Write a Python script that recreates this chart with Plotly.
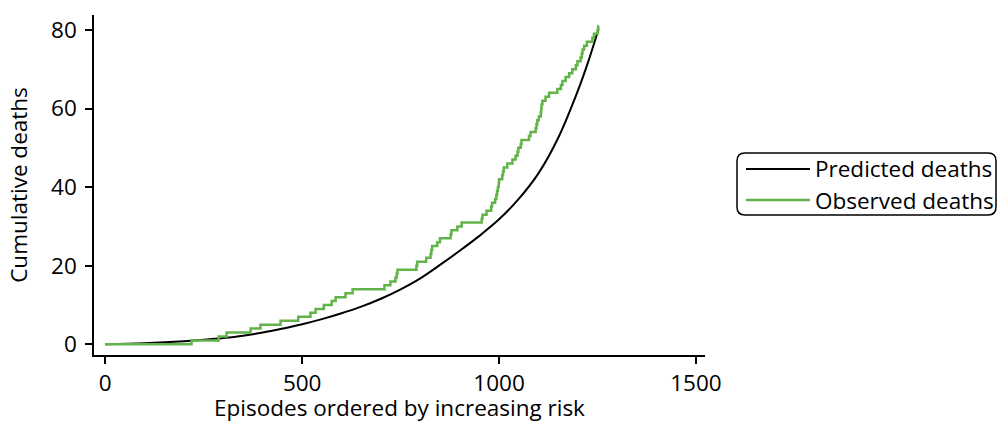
import plotly.graph_objects as go

# Predicted cumulative deaths
pred_x = [0, 100, 200, 250, 300, 350, 400, 450, 500, 550, 600, 650, 700, 750, 800,
          850, 900, 950, 1000, 1050, 1100, 1150, 1200, 1225, 1252]
pred_y = [0, 0.3, 0.8, 1.15, 1.6, 2.2, 3.0, 4.0, 5.1, 6.4, 7.9, 9.6, 11.6, 14.0, 16.8,
          20.2, 23.8, 27.6, 31.8, 37.0, 43.5, 52.5, 64.5, 71.5, 80.0]

# Episode index at which each observed death occurs (cumulative step function)
death_episode = [219, 288, 308, 369, 394, 445, 490, 521, 534, 555,
                 575, 585, 610, 628, 709, 724, 737, 740, 742, 790,
                 792, 815, 826, 828, 830, 843, 850, 877, 879, 894,
                 905, 956, 958, 968, 980, 982, 990, 993, 995, 997,
                 999, 1000, 1008, 1010, 1012, 1021, 1034, 1042, 1047, 1049,
                 1055, 1057, 1076, 1080, 1093, 1095, 1097, 1101, 1106, 1107,
                 1108, 1110, 1118, 1127, 1148, 1157, 1161, 1169, 1178, 1186,
                 1195, 1199, 1207, 1210, 1212, 1216, 1223, 1237, 1241, 1250,
                 1252]
last_episode = 1253

x_ticks = [0, 500, 1000, 1500]
y_ticks = [0, 20, 40, 60, 80]
legend_labels = ["Predicted deaths", "Observed deaths"]

BLACK = "#000000"
GREEN = "#62b44a"
FONT = "Open Sans"
FS = 22.5

obs_x = [0] + death_episode + [last_episode]
obs_y = list(range(0, len(death_episode) + 1)) + [len(death_episode)]

fig = go.Figure()
fig.add_trace(go.Scatter(x=pred_x, y=pred_y, mode="lines", name=legend_labels[0],
                         line=dict(color=BLACK, width=2, shape="spline", smoothing=1.0)))
fig.add_trace(go.Scatter(x=obs_x, y=obs_y, mode="lines", name=legend_labels[1],
                         line=dict(color=GREEN, width=2.5, shape="hv")))

W, H = 997, 423
L, R, T, B = 94, 292, 15, 68
pw, ph = W - L - R, H - T - B

def px(x):
    return (x - L) / pw

def py(y):
    return (H - B - y) / ph

# manual legend with rounded box
x0, x1, y0, y1, r = px(737), px(996), py(153), py(215), 8
rx, ry = r / pw, r / ph
path = (f"M {x0+rx},{y0} L {x1-rx},{y0} Q {x1},{y0} {x1},{y0-ry} "
        f"L {x1},{y1+ry} Q {x1},{y1} {x1-rx},{y1} L {x0+rx},{y1} "
        f"Q {x0},{y1} {x0},{y1+ry} L {x0},{y0-ry} Q {x0},{y0} {x0+rx},{y0} Z")
shapes = [dict(type="path", path=path, xref="paper", yref="paper",
               line=dict(color=BLACK, width=1.5))]
annotations = []
for row, (lab, col, w) in enumerate(zip(legend_labels, [BLACK, GREEN], [2, 2.5])):
    yy = py(169 + row * 31)
    shapes.append(dict(type="line", xref="paper", yref="paper", x0=px(746), x1=px(810),
                       y0=yy, y1=yy, line=dict(color=col, width=w)))
    annotations.append(dict(text=lab, xref="paper", yref="paper", x=px(813), y=yy,
                            xanchor="left", yanchor="middle", showarrow=False,
                            font=dict(family=FONT, size=FS, color=BLACK)))

fig.update_layout(
    width=W, height=H,
    margin=dict(l=L, r=R, t=T, b=B, pad=0, autoexpand=False),
    paper_bgcolor="white", plot_bgcolor="white",
    showlegend=False,
    shapes=shapes, annotations=annotations,
    font=dict(family=FONT, size=FS, color=BLACK),
)
fig.update_xaxes(range=[-28.7, 1523], tickvals=x_ticks, ticks="outside", ticklen=7,
                 tickwidth=1.5, tickcolor=BLACK, showline=True, linecolor=BLACK, linewidth=1.5,
                 showgrid=False, zeroline=False, automargin=False, ticklabelstandoff=0,
                 tickfont=dict(family=FONT, size=FS),
                 title=dict(text="Episodes ordered by increasing risk", standoff=12,
                            font=dict(family=FONT, size=FS)))
fig.update_yaxes(range=[-2.72, 83.8], tickvals=y_ticks, ticks="outside", ticklen=7,
                 tickwidth=1.5, tickcolor=BLACK, showline=True, linecolor=BLACK, linewidth=1.5,
                 showgrid=False, zeroline=False, automargin=False, ticklabelstandoff=4,
                 tickfont=dict(family=FONT, size=FS),
                 title=dict(text="Cumulative deaths", standoff=17,
                            font=dict(family=FONT, size=FS)))

fig.write_html("out.html", config={"displayModeBar": False},
               post_script="document.body.style.margin='0';document.body.style.overflow='hidden';")
